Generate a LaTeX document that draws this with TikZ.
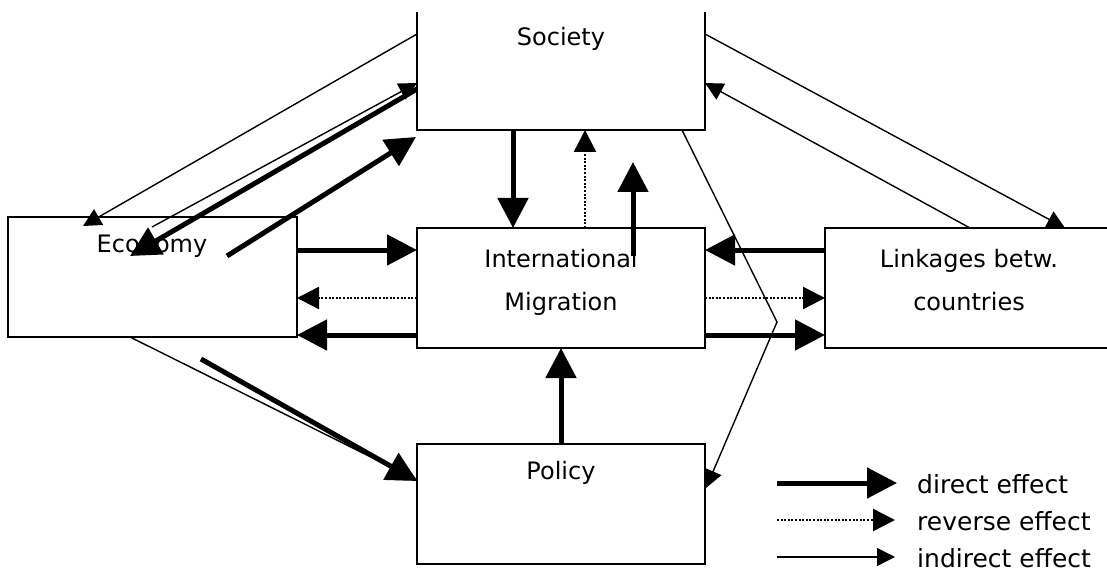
\documentclass[tikz,border=0pt]{standalone}
\usepackage{fontspec}
\setmainfont{DejaVu Sans}
\usetikzlibrary{arrows.meta,calc}
\begin{document}
\begin{tikzpicture}[x=1pt,y=-1pt,
  boxline/.style={draw, line width=1.4pt},
  boxnode/.style={inner sep=0pt, outer sep=0pt, anchor=north west},
  lbl/.style={font=\fontsize{24}{43}\selectfont, inner sep=0pt, align=center},
  leglbl/.style={font=\fontsize{25}{30}\selectfont, inner sep=0pt, anchor=base west},
  direct/.style={line width=5pt, -{Triangle[length=30pt,width=30pt]}},
  reverse/.style={line width=2.4pt, dash pattern=on 2pt off 1.6pt, -{Triangle[length=22pt,width=22pt]}},
  indirect/.style={line width=1.4pt, -{Triangle[length=18pt,width=18pt]}},
]
\useasboundingbox (0,0) rectangle (1107,585);

% boxes
\node[boxnode, boxline, minimum width=289pt, minimum height=120pt] (econ) at (8,217) {};
\node[boxnode, boxline, minimum width=288pt, minimum height=120pt] (mig) at (417,228) {};
\node[boxnode, boxline, minimum width=288pt, minimum height=120pt] (pol) at (417,444) {};
\node[boxnode, minimum width=288pt, minimum height=118pt] (soc) at (417,12) {};
\node[boxnode, minimum width=282pt, minimum height=120pt] (link) at (825,228) {};
\draw[boxline] (soc.north west) -- (soc.south west) -- (soc.south east) -- (soc.north east);
\draw[boxline] (link.north east) -- (link.north west) -- (link.south west) -- (link.south east);

% labels
\node[lbl, anchor=base] (soct) at (561,46) {Society};
\node[lbl, anchor=base] (econt) at (152,252) {Economy};
\node[lbl, anchor=center] (migt) at (561,282) {International\\Migration};
\node[lbl, anchor=center] (linkt) at (969,280) {Linkages betw.\\countries};
\node[lbl, anchor=base] (polt) at (561,479) {Policy};

% Society <-> Economy
\draw[indirect] ($(soc.north west)+(0,22)$) -- ($(econ.north west)+(75,9)$);
\draw[indirect] ($(econ.north west)+(144,10)$) -- ($(soc.north west)+(0,71)$);
\draw[direct] ($(soc.north west)+(0,77)$) -- ($(econ.north west)+(122,39)$);
\draw[direct] ($(econ.north west)+(219,39)$) -- ($(soc.south west)+(-1,7)$);

% Society <-> Migration
\draw[direct] ($(soc.south west)+(96,0)$) -- ($(mig.north west)+(96,0)$);
\draw[reverse] ($(mig.north west)+(168,0)$) -- ($(soc.south west)+(168,0)$);
\draw[direct] ($(mig.north west)+(216,28)$) -- ($(soc.south west)+(216,32)$);

% Economy <-> Migration
\draw[direct] ($(econ.north east)+(0,33)$) -- ($(mig.north west)+(0,22)$);
\draw[reverse] ($(mig.north west)+(0,70)$) -- ($(econ.north east)+(0,81)$);
\draw[direct] ($(mig.north west)+(0,107)$) -- ($(econ.north east)+(0,118)$);

% Migration <-> Linkages
\draw[direct] ($(link.north west)+(0,22)$) -- ($(mig.north east)+(0,22)$);
\draw[reverse] ($(mig.north east)+(0,70)$) -- ($(link.north west)+(0,70)$);
\draw[direct] ($(mig.north east)+(0,107)$) -- ($(link.north west)+(0,107)$);

% Society <-> Linkages
\draw[indirect] ($(soc.north east)+(0,22)$) -- ($(link.north west)+(240,0)$);
\draw[indirect] ($(link.north west)+(145,0)$) -- ($(soc.north east)+(0,71)$);

% Society -> Policy (bent)
\coordinate (bend) at (777,322);
\draw[indirect] ($(soc.south east)+(-23,0)$) -- (bend) -- ($(pol.north east)+(1,44)$);

% Economy -> Policy
\draw[indirect] ($(econ.south west)+(122,0)$) -- ($(pol.north west)+(0,36)$);
\draw[direct] ($(econ.south west)+(193,22)$) -- ($(pol.north west)+(0,37)$);

% Policy -> Migration
\draw[direct] (pol.north) -- (mig.south);

% legend
\coordinate (la) at (777,483);
\coordinate (lb) at (897,483);
\coordinate (lc) at (777,520);
\coordinate (ld) at (895,520);
\coordinate (le) at (777,557);
\coordinate (lf) at (895,557);
\draw[direct] (la) -- (lb);
\draw[reverse] (lc) -- (ld);
\draw[indirect] (le) -- (lf);
\node[leglbl] (lt1) at (917,493) {direct effect};
\node[leglbl] (lt2) at (917,530) {reverse effect};
\node[leglbl] (lt3) at (917,567) {indirect effect};
\end{tikzpicture}
\end{document}
